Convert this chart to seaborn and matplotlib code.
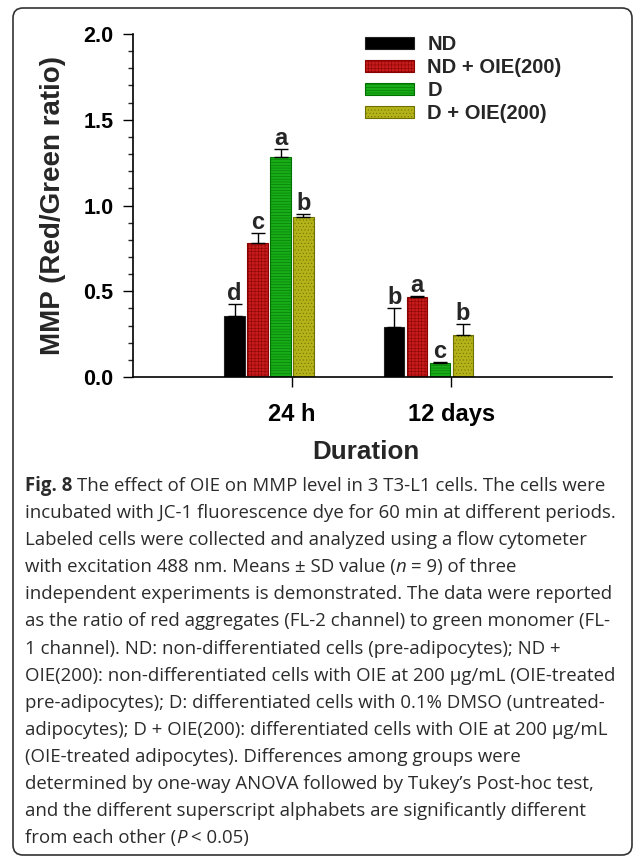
import numpy as np
import pandas as pd
import matplotlib
matplotlib.use("Agg")
import matplotlib.pyplot as plt
from matplotlib.patches import FancyBboxPatch
from matplotlib.ticker import MultipleLocator
from matplotlib.container import BarContainer
import seaborn as sns

# ---------------- data ----------------
durations = ["24 h", "12 days"]
groups = ["ND", "ND + OIE(200)", "D", "D + OIE(200)"]
mmp_24h = [0.355, 0.780, 1.285, 0.932]
mmp_12d = [0.292, 0.466, 0.082, 0.247]
sd_24h = [0.072, 0.060, 0.045, 0.020]
sd_12d = [0.108, 0.004, 0.003, 0.060]
letters_24h = ["d", "c", "a", "b"]
letters_12d = ["b", "a", "c", "b"]
yticks = [0.0, 0.5, 1.0, 1.5, 2.0]

# caption: each line is a list of (text, style) segments; r=regular b=bold i=italic
caption_lines = [
    [("Fig. 8 ", "b"), ("The effect of OIE on MMP level in 3 T3-L1 cells. The cells were", "r")],
    [("incubated with JC-1 fluorescence dye for 60 min at different periods.", "r")],
    [("Labeled cells were collected and analyzed using a flow cytometer", "r")],
    [("with excitation 488 nm. Means ± SD value (", "r"), ("n", "i"), (" = 9) of three", "r")],
    [("independent experiments is demonstrated. The data were reported", "r")],
    [("as the ratio of red aggregates (FL-2 channel) to green monomer (FL-", "r")],
    [("1 channel). ND: non-differentiated cells (pre-adipocytes); ND +", "r")],
    [("OIE(200): non-differentiated cells with OIE at 200 µg/mL (OIE-treated", "r")],
    [("pre-adipocytes); D: differentiated cells with 0.1% DMSO (untreated-", "r")],
    [("adipocytes); D + OIE(200): differentiated cells with OIE at 200 µg/mL", "r")],
    [("(OIE-treated adipocytes). Differences among groups were", "r")],
    [("determined by one-way ANOVA followed by Tukey’s Post-hoc test,", "r")],
    [("and the different superscript alphabets are significantly different", "r")],
    [("from each other (", "r"), ("P", "i"), (" < 0.05)", "r")],
]

face_colors = ["#000000", "#e00000", "#00c400", "#cccc00"]
edge_colors = ["#222222", "#8a0000", "#007000", "#707000"]
hatches = [None, "+++++", "------", "....."]

# ---------------- style ----------------
sns.set_style("ticks")
plt.rcParams["font.family"] = ["Liberation Sans", "DejaVu Sans"]
plt.rcParams["hatch.linewidth"] = 0.35

W, H = 635, 858
fig = plt.figure(figsize=(W / 100, H / 100), dpi=100)
ax = fig.add_axes([133 / W, 1 - 377 / H, (612 - 133) / W, (377 - 34) / H])

df = pd.DataFrame({
    "Duration": np.repeat(durations, len(groups)),
    "Group": groups * len(durations),
    "MMP": mmp_24h + mmp_12d,
    "SD": sd_24h + sd_12d,
    "Letter": letters_24h + letters_12d,
})

sns.barplot(data=df, x="Duration", y="MMP", hue="Group", order=durations,
            hue_order=groups, palette=face_colors, width=0.575, gap=0.11,
            errorbar=None, ax=ax, legend=True, linewidth=0.8)

bar_conts = [c for c in ax.containers if isinstance(c, BarContainer)]

# style bars, add error bars and letters
for gi, cont in enumerate(bar_conts):
    for di, patch in enumerate(cont.patches):
        patch.set_edgecolor(edge_colors[gi])
        patch.set_linewidth(0.8)
        if hatches[gi]:
            patch.set_hatch(hatches[gi])
        row = df[(df["Group"] == groups[gi]) & (df["Duration"] == durations[di])].iloc[0]
        xc = patch.get_x() + patch.get_width() / 2
        top = row["MMP"] + row["SD"]
        ax.errorbar([xc], [row["MMP"]], yerr=[[0], [row["SD"]]], fmt="none",
                    ecolor="black", elinewidth=1.0, capsize=5, capthick=1.0, zorder=3)
        ax.annotate(row["Letter"], (xc, top), xytext=(0, 4), textcoords="offset pixels",
                    ha="center", va="baseline", fontsize=17, fontweight="bold")

# legend styling
leg = ax.legend(loc="upper left", bbox_to_anchor=(365 / W, 1 - 35 / H),
                bbox_transform=fig.transFigure, frameon=False,
                prop={"size": 14.5, "weight": "bold"},
                handlelength=2.45, handleheight=0.55, handletextpad=0.65,
                labelspacing=0.2, borderpad=0, borderaxespad=0)
for gi, h in enumerate(leg.legend_handles):
    h.set_edgecolor(edge_colors[gi])
    if hatches[gi]:
        h.set_hatch(hatches[gi])

# axes
ax.set_ylim(0, 2.0)
ax.set_yticks(yticks)
ax.set_yticklabels([f"{v:.1f}" for v in yticks])
ax.yaxis.set_minor_locator(MultipleLocator(0.1))
ax.set_xlim(-0.853, 2.15)
# ticks sit between 3rd and 4th bars of each group
tick_pos = []
for di in range(len(durations)):
    p3 = bar_conts[2].patches[di]
    p4 = bar_conts[3].patches[di]
    tick_pos.append((p3.get_x() + p3.get_width() + p4.get_x()) / 2)
ax.set_xticks(tick_pos)
ax.set_xticklabels(durations)

sns.despine(ax=ax)
for s in ["left", "bottom"]:
    ax.spines[s].set_linewidth(1.2)
    ax.spines[s].set_color("black")
ax.tick_params(axis="y", which="major", direction="out", length=7, width=1.0,
               labelsize=15.5, pad=7, colors="black")
ax.tick_params(axis="y", which="minor", direction="out", length=3.6, width=1.0)
ax.tick_params(axis="x", which="major", direction="out", length=7, width=1.0,
               labelsize=17, pad=12, colors="black")
ax.tick_params(axis="x", which="minor", bottom=False)
for lab in ax.get_xticklabels() + ax.get_yticklabels():
    lab.set_fontweight("bold")

ax.set_ylabel("MMP (Red/Green ratio)", fontsize=20, fontweight="bold")
ax.yaxis.label.set_va("center")
ax.yaxis.set_label_coords((53 - 133) / (612 - 133), 0.5)
ax.set_xlabel("Duration", fontsize=18.7, fontweight="bold")
ax.xaxis.label.set_va("center")
ax.xaxis.set_label_coords((366 - 133) / (612 - 133), (377 - 452) / (377 - 34))

# caption (segments placed one after another)
fig.canvas.draw()
renderer = fig.canvas.get_renderer()
cap_size = 13.4
cap_family = ["Open Sans", "DejaVu Sans"]
style_kw = {"r": dict(fontweight="normal", fontstyle="normal"),
            "b": dict(fontweight="bold", fontstyle="normal"),
            "i": dict(fontweight="normal", fontstyle="italic")}


def raw_w(s, st):
    t = fig.text(0, 0, s, fontsize=cap_size, family=cap_family, **style_kw[st])
    w = t.get_window_extent(renderer).width
    t.remove()
    return w


def adv_w(s, st):
    # advance width including leading/trailing spaces
    return raw_w("x" + s + "x", st) - raw_w("xx", st)


y0, dy = 486, 27.1
for i, segs in enumerate(caption_lines):
    xpix = 25.0
    for s, st in segs:
        lead = len(s) - len(s.lstrip(" "))
        shift = adv_w(" " * lead, st) if lead else 0.0
        fig.text((xpix + shift) / W, 1 - (y0 + i * dy) / H, s.strip(" "),
                 fontsize=cap_size, family=cap_family, color="#2b2b2b",
                 va="center", ha="left", **style_kw[st])
        xpix += adv_w(s, st)

# rounded frame
frame = FancyBboxPatch((0.13, 0.03), 6.19, 8.47,
                       boxstyle="round,pad=0,rounding_size=0.1",
                       transform=fig.dpi_scale_trans, fill=False,
                       edgecolor="#333333", linewidth=1.2)
fig.patches.append(frame)

fig.savefig("out.png", dpi=100)
